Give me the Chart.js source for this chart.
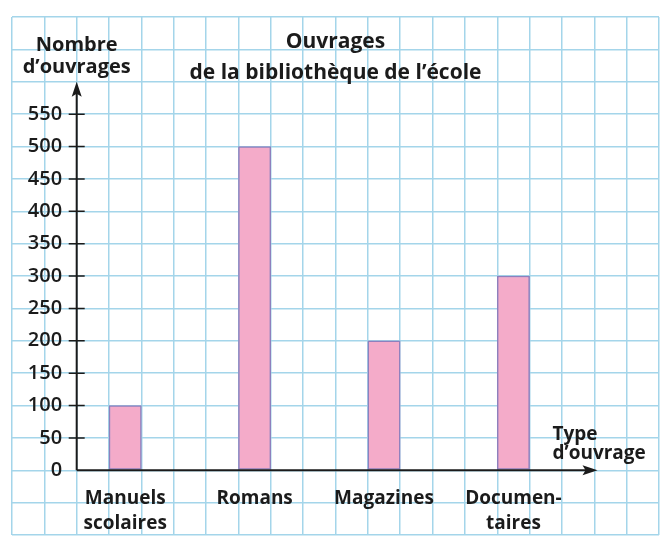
<!DOCTYPE html>
<html lang="fr">
<head>
<meta charset="utf-8">
<script src="https://cdn.jsdelivr.net/npm/chart.js@4.4.1/dist/chart.umd.min.js"></script>
<style>
  html, body { margin: 0; padding: 0; background: #fff; }
  #wrap { width: 668px; height: 540px; }
</style>
</head>
<body>
<div id="wrap"><canvas id="graph" width="668" height="540"></canvas></div>
<script>
// Values
const categories = [['Manuels', 'scolaires'], 'Romans', 'Magazines', ['Documen-', 'taires']]
const bookCounts = [100, 500, 200, 300]
const yTickValues = [0, 50, 100, 150, 200, 250, 300, 350, 400, 450, 500, 550]
const chartTitle = ['Ouvrages', 'de la bibliothèque de l’école']
const yAxisTitle = ['Nombre', 'd’ouvrages']
const xAxisTitle = ['Type', 'd’ouvrage']

// Squared paper: 20 columns, rows of 50 from -100 to 700
const GRID_COLS = 20
const GRID_MIN = -100
const GRID_MAX = 700
const GRID_STEP = 50
const ORIGIN_COL = 2
const Y_LABEL_COL = 1.55  // right edge of the value labels
const FIRST_BAR_COL = 3.5
const BAR_STEP = 4
const X_ARROW_COL = 18.1
const Y_ARROW_VALUE = 600

const GRID_COLOUR = '#a4d5ea'
const INK = '#1b1b1b'
const FONT = '"Open Sans", Lato, sans-serif'

const barPoints = bookCounts.map((v, i) => ({ x: FIRST_BAR_COL + i * BAR_STEP, y: v }))
const labelCols = categories.map((c, i) => FIRST_BAR_COL + i * BAR_STEP)

// labels sit inside the paper, so they must not push the chart area in
const noPadding = (scale) => {
  scale.paddingTop = 0
  scale.paddingBottom = 0
  scale.paddingLeft = 0
  scale.paddingRight = 0
}

/**
 * Axes with arrows, tick marks and the free-standing titles.
 */
const axesPlugin = {
  id: 'axes',
  afterDraw(chart) {
    const { ctx, chartArea } = chart
    const gx = chart.scales.gx
    const gy = chart.scales.gy
    const ox = gx.getPixelForValue(ORIGIN_COL)
    const oy = gy.getPixelForValue(0)
    const xTip = gx.getPixelForValue(X_ARROW_COL)
    const yTip = gy.getPixelForValue(Y_ARROW_VALUE)

    ctx.save()
    ctx.strokeStyle = INK
    ctx.fillStyle = INK
    ctx.lineWidth = 2

    ctx.beginPath()
    ctx.moveTo(ox, oy)
    ctx.lineTo(ox, yTip + 8)
    ctx.moveTo(ox, oy)
    ctx.lineTo(xTip - 8, oy)
    ctx.stroke()

    // arrow heads
    ctx.beginPath()
    ctx.moveTo(ox, yTip)
    ctx.lineTo(ox - 5, yTip + 15)
    ctx.lineTo(ox, yTip + 12)
    ctx.lineTo(ox + 5, yTip + 15)
    ctx.closePath()
    ctx.fill()

    ctx.beginPath()
    ctx.moveTo(xTip, oy)
    ctx.lineTo(xTip - 15, oy - 5)
    ctx.lineTo(xTip - 12, oy)
    ctx.lineTo(xTip - 15, oy + 5)
    ctx.closePath()
    ctx.fill()

    // tick marks across the vertical axis
    ctx.lineWidth = 1.5
    ctx.beginPath()
    yTickValues.filter((v) => v > 0).forEach((v) => {
      const y = gy.getPixelForValue(v)
      ctx.moveTo(ox - 8, y)
      ctx.lineTo(ox + 8, y)
    })
    ctx.stroke()

    // titles
    ctx.font = 'bold 21px ' + FONT
    ctx.textBaseline = 'alphabetic'
    ctx.textAlign = 'center'
    const cx = (chartArea.left + chartArea.right) / 2
    ctx.fillText(chartTitle[0], cx, chartArea.top + 31)
    ctx.fillText(chartTitle[1], cx, chartArea.top + 62)
    ctx.font = 'bold 20px ' + FONT
    ctx.fillText(yAxisTitle[0], ox, chartArea.top + 34)
    ctx.fillText(yAxisTitle[1], ox, chartArea.top + 56)

    ctx.font = 'bold 19px ' + FONT
    ctx.textAlign = 'left'
    ctx.fillText(xAxisTitle[0], xTip - 45, oy - 30)
    ctx.fillText(xAxisTitle[1], xTip - 45, oy - 11)
    ctx.restore()
  },
}

const gridLines = { color: GRID_COLOUR, lineWidth: 1.5, drawTicks: false, offset: false }

const ctx = document.getElementById('graph').getContext('2d')
new Chart(ctx, {
  type: 'bar',
  data: {
    datasets: [
      {
        data: barPoints,
        xAxisID: 'gx',
        yAxisID: 'gy',
        backgroundColor: '#f4abc9',
        borderColor: '#8d80bd',
        borderWidth: 1.5,
        borderSkipped: false,
        barPercentage: 1,
        categoryPercentage: 1,
      },
    ],
  },
  options: {
    responsive: false,
    animation: false,
    layout: { padding: { left: 12, top: 17, right: 9, bottom: 5 } },
    plugins: { legend: { display: false }, tooltip: { enabled: false } },
    scales: {
      gx: {
        axis: 'x',
        type: 'linear',
        position: 'bottom',
        offset: false,
        min: 0,
        max: GRID_COLS,
        ticks: { display: false, stepSize: 1 },
        grid: gridLines,
        border: { display: false },
      },
      gy: {
        axis: 'y',
        type: 'linear',
        position: 'left',
        min: GRID_MIN,
        max: GRID_MAX,
        ticks: { display: false, stepSize: GRID_STEP },
        grid: gridLines,
        border: { display: false },
      },
      xl: {
        axis: 'x',
        type: 'linear',
        position: { gy: 0 },
        offset: false,
        min: 0,
        max: GRID_COLS,
        afterBuildTicks: (scale) => {
          scale.ticks = labelCols.map((v) => ({ value: v }))
        },
        afterFit: noPadding,
        ticks: {
          autoSkip: false,
          maxRotation: 0,
          padding: 8,
          color: INK,
          font: { family: FONT, size: 19, weight: 'bold', lineHeight: 1.3 },
          callback: (v, i) => categories[i],
        },
        grid: { display: false, offset: false },
        border: { display: false },
      },
      yl: {
        axis: 'y',
        type: 'linear',
        position: { gx: Y_LABEL_COL },
        min: GRID_MIN,
        max: GRID_MAX,
        afterBuildTicks: (scale) => {
          scale.ticks = yTickValues.map((v) => ({ value: v }))
        },
        afterFit: noPadding,
        ticks: {
          padding: 0,
          color: INK,
          font: { family: FONT, size: 20, weight: '600' },
          callback: (v) => String(v),
        },
        grid: { display: false },
        border: { display: false },
      },
    },
  },
  plugins: [axesPlugin],
})
</script>
</body>
</html>
